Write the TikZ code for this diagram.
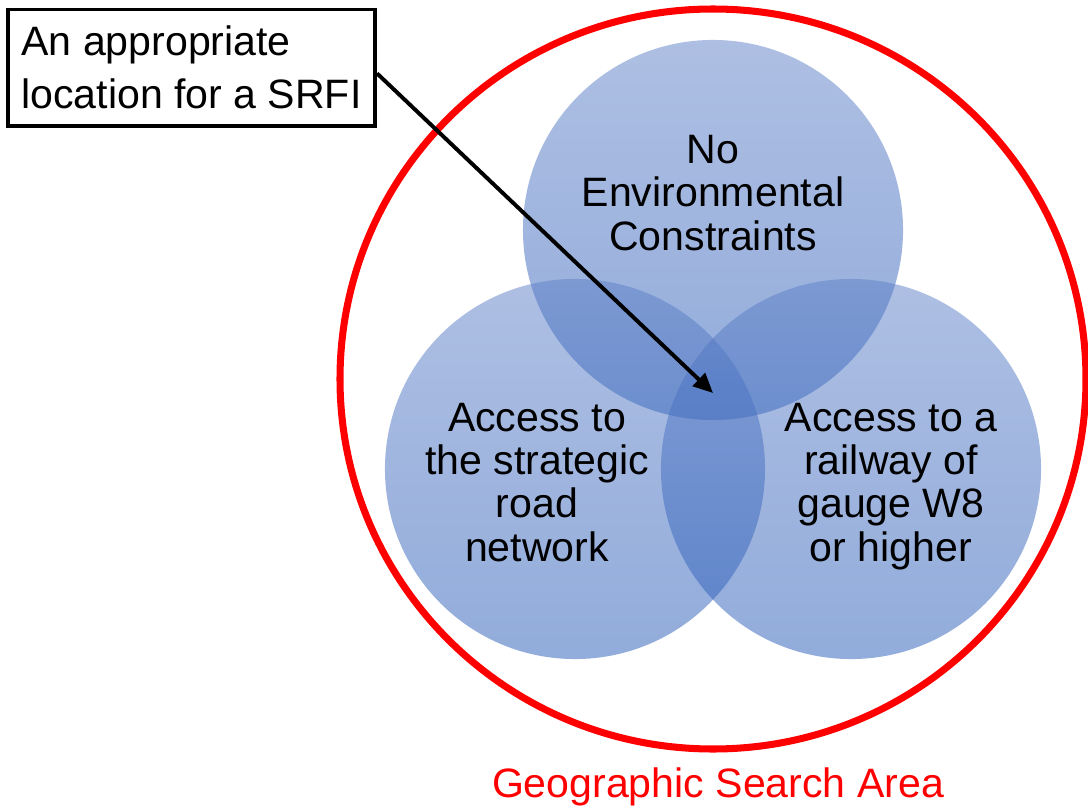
\documentclass[tikz,border=0pt]{standalone}
\usepackage{fontspec}
\setmainfont{Liberation Sans}
\usetikzlibrary{arrows.meta}

\definecolor{vennTop}{RGB}{93,127,199}
\definecolor{vennBottom}{RGB}{37,89,183}
\definecolor{areaRed}{RGB}{255,0,0}

\begin{document}
\begin{tikzpicture}[x=0.025cm, y=-0.025cm,
  venn/.style={circle, draw=none, minimum size=9.5cm, inner sep=0pt,
    top color=vennTop, bottom color=vennBottom, fill opacity=0.5},
  lbl/.style={font=\fontsize{29.2}{30.6}\selectfont, align=center,
    inner sep=0pt, anchor=base, text=black},
  callout/.style={draw=black, line width=2.8pt, fill=white,
    minimum width=9.175cm, minimum height=2.9125cm, inner sep=0pt,
    align=left, font=\fontsize{29.2}{37.7}\selectfont},
  pointer/.style={draw=black, line width=2.8pt,
    -{Triangle[length=14pt, width=12.5pt]}}
]
\useasboundingbox (0,0) rectangle (1088,809);

% outer search area
\draw[areaRed, line width=5pt] (713,379) ellipse [x radius=373, y radius=370];
\node[lbl, text=areaRed] (area) at (718,797) {Geographic Search Area};

% the three criteria (base anchor sits on the last line)
\node[venn] (env)  at (713,230) {};
\node[venn] (road) at (575,469) {};
\node[venn] (rail) at (851,469) {};

\node[lbl] (envtxt)  at (713,250) {No\\Environmental\\Constraints};
\node[lbl] (roadtxt) at (537,561) {Access to\\the strategic\\road\\network};
\node[lbl] (railtxt) at (891,561) {Access to a\\railway of\\gauge W8\\or higher};

% callout and pointer to the common intersection
\node[callout] (box) at (191.5,67.75) {An appropriate\\location for a SRFI};
\coordinate (spot) at (713,393);
\draw[pointer] ([yshift=-4pt]box.east) -- (spot);
\end{tikzpicture}
\end{document}
